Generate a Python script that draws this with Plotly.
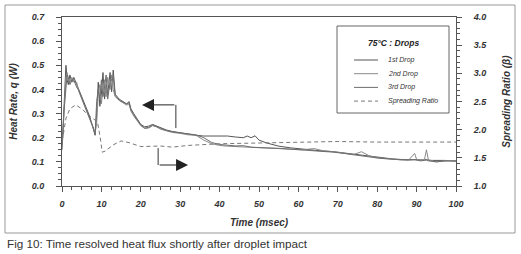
import plotly.graph_objects as go

# ---- data ----
t_drop = [0, 0.2, 0.5, 1.0, 1.3, 1.6, 2.0, 2.5, 3.0, 3.7, 4.3, 5.0, 6.0, 7.0, 8.0, 8.4, 8.8, 9.2, 9.6,
          10.0, 10.4, 10.8, 11.2, 11.6, 12.2, 12.6, 13.0, 13.5, 14.5, 15.5, 16.4, 17.0, 17.5, 18.2, 19.0,
          20, 21, 22, 23, 24, 25, 26.5, 28, 30, 32, 34, 36, 38, 40, 42, 44, 46, 47, 48, 49, 50, 52, 55,
          58, 61, 64, 66, 69, 72, 74, 76, 78, 80, 82, 84, 86, 88, 89.5, 90, 91, 92, 92.5, 93, 94, 95,
          97, 98.5, 100]

drop1 = [0.15, 0.22, 0.33, 0.50, 0.44, 0.42, 0.46, 0.43, 0.45, 0.42, 0.40, 0.37, 0.33, 0.29, 0.24, 0.21,
         0.30, 0.43, 0.33, 0.38, 0.47, 0.36, 0.42, 0.38, 0.47, 0.39, 0.48, 0.38, 0.36, 0.35, 0.34, 0.35,
         0.32, 0.30, 0.28, 0.255, 0.245, 0.248, 0.255, 0.248, 0.24, 0.232, 0.226, 0.22, 0.215, 0.21, 0.207,
         0.207, 0.208, 0.207, 0.203, 0.20, 0.207, 0.20, 0.208, 0.19, 0.178, 0.165, 0.158, 0.152, 0.148,
         0.145, 0.142, 0.136, 0.13, 0.128, 0.123, 0.118, 0.115, 0.112, 0.11, 0.109, 0.11, 0.108, 0.107,
         0.108, 0.11, 0.107, 0.106, 0.105, 0.106, 0.105, 0.104]

drop2 = [0.16, 0.20, 0.30, 0.45, 0.47, 0.44, 0.43, 0.45, 0.43, 0.43, 0.39, 0.36, 0.32, 0.28, 0.235, 0.22,
         0.26, 0.38, 0.42, 0.34, 0.40, 0.44, 0.37, 0.45, 0.40, 0.46, 0.40, 0.37, 0.355, 0.345, 0.335, 0.34,
         0.31, 0.29, 0.27, 0.25, 0.238, 0.24, 0.25, 0.245, 0.235, 0.228, 0.222, 0.218, 0.212, 0.21, 0.19,
         0.175, 0.168, 0.165, 0.163, 0.162, 0.161, 0.16, 0.16, 0.158, 0.157, 0.155, 0.152, 0.15, 0.155,
         0.147, 0.142, 0.136, 0.13, 0.142, 0.125, 0.117, 0.113, 0.11, 0.108, 0.108, 0.135, 0.11, 0.106,
         0.11, 0.15, 0.108, 0.103, 0.10, 0.104, 0.106, 0.103]

drop3 = [0.17, 0.21, 0.31, 0.42, 0.46, 0.45, 0.42, 0.44, 0.44, 0.41, 0.395, 0.365, 0.325, 0.285, 0.24,
         0.215, 0.35, 0.40, 0.36, 0.44, 0.37, 0.41, 0.46, 0.36, 0.43, 0.44, 0.45, 0.375, 0.355, 0.347, 0.34,
         0.345, 0.315, 0.295, 0.275, 0.252, 0.24, 0.243, 0.252, 0.246, 0.237, 0.23, 0.224, 0.219, 0.214,
         0.212, 0.20, 0.18, 0.172, 0.168, 0.166, 0.167, 0.163, 0.161, 0.16, 0.16, 0.158, 0.156, 0.153,
         0.149, 0.147, 0.145, 0.14, 0.134, 0.129, 0.126, 0.122, 0.116, 0.113, 0.111, 0.108, 0.107, 0.109,
         0.107, 0.104, 0.106, 0.107, 0.104, 0.101, 0.10, 0.103, 0.104, 0.103]

t_spread = [0, 0.3, 1.0, 2.0, 3.5, 5.0, 7.0, 9.0, 9.7, 10.2, 11.0, 13.0, 15.0, 17.0, 20.0, 25.0, 28.0,
            32.0, 40.0, 50.0, 60.0, 70.0, 80.0, 90.0, 100.0]
spread = [1.80, 1.90, 2.20, 2.37, 2.44, 2.37, 2.24, 2.14, 1.86, 1.60, 1.62, 1.73, 1.80, 1.77, 1.70, 1.71,
          1.69, 1.72, 1.75, 1.76, 1.77, 1.79, 1.78, 1.78, 1.78]

x_ticks = list(range(0, 101, 10))
y_ticks = [0.0, 0.1, 0.2, 0.3, 0.4, 0.5, 0.6, 0.7]
y2_ticks = [1.0, 1.5, 2.0, 2.5, 3.0, 3.5, 4.0]

legend_title = "75°C : Drops"
series = [
    dict(name="1st Drop", x=t_drop, y=drop1, color="#555555", dash="solid", axis="y"),
    dict(name="2nd Drop", x=t_drop, y=drop2, color="#8a8a8a", dash="solid", axis="y"),
    dict(name="3rd Drop", x=t_drop, y=drop3, color="#6e6e6e", dash="solid", axis="y"),
    dict(name="Spreading Ratio", x=t_spread, y=spread, color="#777777", dash="4px,3px", axis="y2"),
]

# ---- figure ----
FONT = "Liberation Sans, Arial, sans-serif"
W, H = 521, 254
L, R, T, B = 62, 65, 17, 68
pw, ph = W - L - R, H - T - B


def px(x):
    return (x - L) / pw


def py(y):
    return (H - B - y) / ph


fig = go.Figure()
for s in series:
    fig.add_trace(go.Scatter(x=s["x"], y=s["y"], mode="lines", name=s["name"], yaxis=s["axis"],
                             showlegend=False,
                             line=dict(color=s["color"], width=1, dash=s["dash"])))

lab = dict(family=FONT, size=9, color="#333", weight="bold", style="italic")
ttl = dict(family=FONT, size=10, color="#333", weight="bold", style="italic")

fig.update_layout(
    width=W, height=H,
    margin=dict(l=L, r=R, t=T, b=B, autoexpand=False),
    paper_bgcolor="white", plot_bgcolor="white",
    font=dict(family=FONT, color="#333"),
    xaxis=dict(range=[0, 100], tickvals=x_ticks, showgrid=False, zeroline=False, automargin=False,
               showline=True, linecolor="#555", linewidth=1, mirror=True,
               ticks="outside", ticklen=5, tickcolor="#555",
               minor=dict(ticks="outside", dtick=2.5, ticklen=3, tickcolor="#555"),
               tickfont=lab, ticklabelstandoff=4,
               title=dict(text="Time (msec)", standoff=11, font=ttl)),
    yaxis=dict(range=[0, 0.7], tickvals=y_ticks, tickformat=".1f", showgrid=False, zeroline=False,
               automargin=False, showline=True, linecolor="#555", linewidth=1,
               ticks="outside", ticklen=5, tickcolor="#555",
               minor=dict(ticks="outside", dtick=0.025, ticklen=3, tickcolor="#555"),
               tickfont=lab, ticklabelstandoff=10,
               title=dict(text="Heat Rate, q (W)", standoff=12, font=ttl)),
    yaxis2=dict(range=[1.0, 4.0], tickvals=y2_ticks, tickformat=".1f", overlaying="y", side="right",
                automargin=False, showgrid=False, zeroline=False, showline=True, linecolor="#555",
                linewidth=1, ticks="outside", ticklen=5, tickcolor="#555",
                minor=dict(ticks="outside", dtick=0.1, ticklen=3, tickcolor="#555"),
                tickfont=lab, ticklabelstandoff=10,
                title=dict(text="Spreading Ratio (β)", standoff=16, font=ttl)),
    showlegend=False,
)

# outer frame of the figure
fig.add_shape(type="rect", xref="paper", yref="paper",
              x0=px(5), x1=px(515), y0=py(233), y1=py(5),
              line=dict(color="#999", width=1), layer="below")

# legend box (drawn by hand for compact spacing)
fig.add_shape(type="rect", xref="paper", yref="paper",
              x0=px(337), x1=px(449), y0=py(113), y1=py(26),
              line=dict(color="#666", width=1), fillcolor="white")
fig.add_annotation(xref="paper", yref="paper", x=px(393), y=py(43), text=legend_title,
                   showarrow=False, xanchor="center", yanchor="middle",
                   font=dict(family=FONT, size=8.5, color="#222", weight="bold", style="italic"))
for i, s in enumerate(series):
    yy = py(60 + i * 13.7)
    fig.add_shape(type="line", xref="paper", yref="paper", x0=px(354), x1=px(378), y0=yy, y1=yy,
                  line=dict(color=s["color"], width=1, dash=s["dash"]))
    fig.add_annotation(xref="paper", yref="paper", x=px(386), y=yy, text=s["name"],
                       showarrow=False, xanchor="left", yanchor="middle",
                       font=dict(family=FONT, size=7, color="#333", style="italic"))

# arrows pointing to the axes
fig.add_shape(type="line", x0=28.9, x1=28.9, y0=0.24, y1=0.336, line=dict(color="#333", width=1))
fig.add_annotation(x=20.3, y=0.336, ax=28.9, ay=0.336, xref="x", yref="y", axref="x", ayref="y",
                   text="", showarrow=True, arrowhead=2, arrowsize=2.4, arrowwidth=1, arrowcolor="#222")
fig.add_shape(type="line", x0=24.4, x1=24.4, y0=0.087, y1=0.157, line=dict(color="#333", width=1))
fig.add_annotation(x=32.0, y=0.087, ax=24.4, ay=0.087, xref="x", yref="y", axref="x", ayref="y",
                   text="", showarrow=True, arrowhead=2, arrowsize=2.4, arrowwidth=1, arrowcolor="#222")

# caption
fig.add_annotation(xref="paper", yref="paper", x=px(5), y=py(243), xanchor="left", yanchor="middle",
                   text="Fig 10: Time resolved heat flux shortly after droplet impact",
                   showarrow=False, font=dict(family=FONT, size=11.7, color="#333"))

fig.write_html("out.html", config={"displayModeBar": False},
               post_script="document.body.style.margin='0';")
